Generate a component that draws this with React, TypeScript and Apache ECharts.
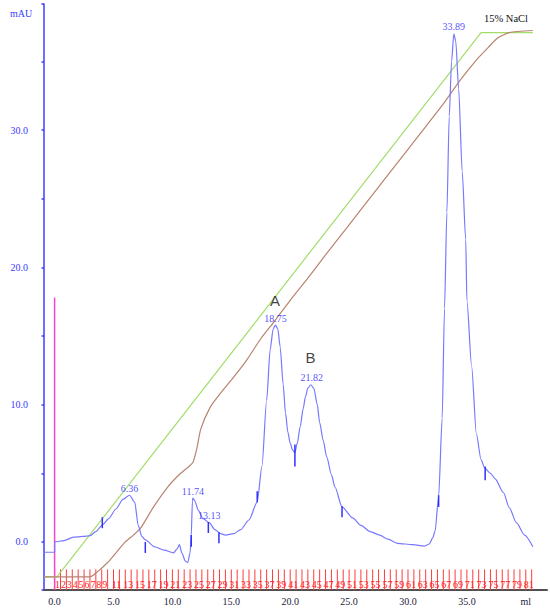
import React, { useEffect, useRef } from "react";
import * as echarts from "echarts";

// UV absorbance (mAU) vs elution volume (ml)
const uvTrace: [number, number][] = [
  [-0.9, -0.75], [0, -0.75], [0, 0], [0.8, 0.1], [1.6, 0.35], [2.4, 0.4], [3.0, 0.45],
  [3.5, 0.75], [4.07, 1.25], [4.6, 1.7], [5.2, 2.4], [5.8, 3.1], [6.36, 3.4], [6.8, 2.9],
  [7.1, 1.2], [7.4, 0.4], [7.7, 0.15], [8.5, -0.35], [9.3, -0.6], [10.1, -0.8], [10.4, -0.5],
  [10.6, -0.2], [10.8, -0.8], [11.1, -1.4], [11.3, -1.5], [11.5, -0.8], [11.6, 0.5],
  [11.7, 3.0], [11.74, 3.2], [11.9, 3.0], [12.2, 2.3], [12.6, 1.7], [13.13, 1.4], [13.6, 0.9],
  [14.1, 0.6], [14.5, 0.5], [15.2, 0.6], [15.8, 0.9], [16.5, 1.6], [17.2, 2.9], [17.6, 5.5],
  [18.0, 10.3], [18.3, 14.0], [18.55, 15.5], [18.75, 15.8], [18.95, 15.5], [19.15, 14.2],
  [19.4, 11.5], [19.6, 9.4], [19.8, 8.0], [20.0, 7.2], [20.2, 6.7], [20.4, 6.5], [20.6, 7.2],
  [20.85, 8.4], [21.1, 9.7], [21.3, 10.6], [21.5, 11.2], [21.75, 11.45], [22.0, 11.2],
  [22.3, 10.0], [22.5, 8.7], [22.8, 7.4], [23.1, 6.2], [23.5, 4.9], [23.8, 4.0], [24.4, 2.55],
  [25.3, 1.75], [26.0, 1.2], [26.8, 0.75], [27.6, 0.5], [28.3, 0.2], [29.1, -0.1], [30.4, -0.2],
  [31.4, -0.3], [31.8, -0.15], [32.1, 0.3], [32.3, 0.8], [32.6, 3.3], [32.9, 9.0], [33.1, 17.0],
  [33.3, 24.0], [33.5, 31.0], [33.7, 35.0], [33.89, 37.0], [34.05, 36.5], [34.3, 33.0],
  [34.6, 27.0], [34.9, 22.0], [35.0, 17.6], [35.4, 12.8], [35.8, 7.9], [36.2, 6.0], [36.5, 5.4],
  [37.0, 5.0], [37.4, 4.6], [38.1, 3.6], [38.6, 2.5], [39.2, 1.4], [39.9, 0.5], [40.6, -0.35],
];

// Conductivity trace
const conductivity: [number, number][] = [
  [-0.9, -2.55], [3.0, -2.55], [3.6, -2.2], [4.5, -1.5], [5.3, -0.7], [6.0, 0], [6.7, 0.5],
  [7.3, 1.0], [8.4, 2.55], [9.6, 4.0], [10.7, 5.0], [11.4, 5.5], [11.75, 5.8], [12.1, 6.9],
  [12.4, 8.2], [13.2, 9.8], [14.1, 10.85], [15.2, 12.0], [16.35, 13.3], [17.5, 14.8],
  [18.6, 16.0], [20.0, 17.6], [21.4, 19.1], [23.0, 20.9], [25.0, 23.1], [27.0, 25.3],
  [29.0, 27.5], [31.0, 29.7], [33.0, 31.9], [34.4, 33.6], [35.8, 35.1], [36.8, 36.0],
  [37.6, 36.7], [38.6, 37.1], [40.6, 37.25],
];

// Programmed NaCl gradient (0 -> 15% NaCl)
const gradient: [number, number][] = [
  [-0.9, -2.55], [0.2, -2.55], [36.2, 37.1], [40.6, 37.1],
];

// Injection mark
const injection: [number, number][] = [[0, -3.5], [0, 17.8]];

// Peak retention volumes (ml) and heights (mAU)
const peaks: [number, number][] = [
  [6.36, 3.4], [11.74, 3.2], [13.13, 1.4], [18.75, 15.8], [21.82, 11.45], [33.89, 37.0],
];

// Peak names
const peakNames: { name: string; value: [number, number] }[] = [
  { name: "A", value: [18.72, 17.55] },
  { name: "B", value: [21.72, 13.4] },
];

// Integration markers: [ml, top mAU, bottom mAU]
const markers: [number, number, number][] = [
  [4.05, 1.8, 1.0], [7.7, 0.0, -0.8], [11.6, 0.5, -0.35], [13.05, 1.45, 0.65],
  [13.95, 0.7, -0.1], [17.2, 3.7, 2.9], [20.4, 7.1, 5.5], [24.4, 2.6, 1.8],
  [32.6, 3.4, 2.55], [36.55, 5.5, 4.5],
];

// Fractions
const fractionVolume = 0.5;
const fractionCount = 81;
const fractionLabels = [
  1, 2, 3, 4, 5, 6, 7, 8, 9, 11, 13, 15, 17, 19, 21, 23, 25, 27, 29, 31, 33, 35, 37, 39,
  41, 43, 45, 47, 49, 51, 53, 55, 57, 59, 61, 63, 65, 67, 69, 71, 73, 75, 77, 79, 81,
];

const X_MIN = -0.9;
const X_MAX = 41.8;
const Y_MIN = -3.5;
const Y_MAX = 39.18;
const FRACTION_TOP = -2.0;

export default function App() {
  const ref = useRef<HTMLDivElement>(null);

  useEffect(() => {
    if (!ref.current) return;
    const chart = echarts.init(ref.current, undefined, { renderer: "svg" });

    const boundaries = Array.from({ length: fractionCount + 1 }, (_, i) => [i * fractionVolume, FRACTION_TOP]);
    const labelData = fractionLabels.map((n) => [(n - 0.5) * fractionVolume, Y_MIN, n]);

    const serif = '"Liberation Serif", "Times New Roman", serif';

    chart.setOption({
      animation: false,
      grid: { left: 44, right: 3, top: 4, bottom: 22, containLabel: false },
      xAxis: {
        type: "value",
        min: X_MIN,
        max: X_MAX,
        minInterval: 5,
        maxInterval: 5,
        splitLine: { show: false },
        axisLine: { show: true, onZero: false, lineStyle: { color: "#505050", width: 2 } },
        axisTick: { show: false },
        axisLabel: {
          color: "#1a1a3a",
          fontFamily: serif,
          fontSize: 10,
          margin: 6,
          formatter: (v: number) => {
            if (Math.abs(v - 40) < 1e-6) return "ml";
            if (Math.abs(v / 5 - Math.round(v / 5)) > 1e-6) return "";
            return v.toFixed(1);
          },
        },
      },
      yAxis: {
        type: "value",
        min: Y_MIN,
        max: Y_MAX,
        minInterval: 5,
        maxInterval: 5,
        splitLine: { show: false },
        axisLine: { show: true, onZero: false, lineStyle: { color: "#3c3cff", width: 1.5 } },
        axisTick: { show: true, length: 2.5, lineStyle: { color: "#3c3cff", width: 1.5 } },
        axisLabel: {
          color: "#3a3aff",
          fontFamily: serif,
          fontSize: 10,
          margin: 16,
          formatter: (v: number) => {
            if (Math.abs(v / 10 - Math.round(v / 10)) > 1e-6) return "";
            return v.toFixed(1);
          },
        },
      },
      graphic: [
        {
          type: "text",
          left: 10,
          top: 8,
          style: { text: "mAU", fill: "#3a3aff", font: `10px ${serif}` },
        },
        {
          type: "text",
          left: 484,
          top: 13,
          style: { text: "15% NaCl", fill: "#111", font: `10.5px ${serif}` },
        },
      ],
      series: [
        {
          type: "custom",
          name: "fractions",
          silent: true,
          z: 1,
          data: boundaries,
          encode: { x: 0, y: 1 },
          renderItem: (params: any, api: any) => {
            const x = api.value(0);
            const p1 = api.coord([x, api.value(1)]);
            const p2 = api.coord([x, Y_MIN]);
            return {
              type: "line",
              shape: { x1: p1[0], y1: p1[1], x2: p2[0], y2: p2[1] },
              style: { stroke: "#ff3b3b", lineWidth: 1 },
            };
          },
        },
        {
          type: "custom",
          name: "fractionLabels",
          silent: true,
          z: 2,
          data: labelData,
          encode: { x: 0, y: 1 },
          renderItem: (params: any, api: any) => {
            const p = api.coord([api.value(0), api.value(1)]);
            return {
              type: "text",
              x: p[0],
              y: p[1] - 1,
              style: {
                text: String(api.value(2)),
                fill: "#ff2020",
                font: `10px ${serif}`,
                align: "center",
                verticalAlign: "bottom",
              },
            };
          },
        },
        {
          type: "line",
          name: "injection",
          data: injection,
          symbol: "none",
          silent: true,
          z: 3,
          lineStyle: { color: "#ff40c8", width: 1.5 },
        },
        {
          type: "line",
          name: "gradient",
          data: gradient,
          symbol: "none",
          silent: true,
          z: 3,
          lineStyle: { color: "#a4dc6c", width: 1.2 },
        },
        {
          type: "line",
          name: "conductivity",
          data: conductivity,
          symbol: "none",
          smooth: 0.2,
          silent: true,
          z: 4,
          lineStyle: { color: "#b88470", width: 1.2 },
        },
        {
          type: "line",
          name: "UV",
          data: uvTrace,
          symbol: "none",
          smooth: 0.25,
          smoothMonotone: "x",
          silent: true,
          z: 5,
          lineStyle: { color: "#7878ff", width: 1.2 },
        },
        {
          type: "custom",
          name: "markers",
          silent: true,
          z: 6,
          data: markers,
          encode: { x: 0, y: [1, 2] },
          renderItem: (params: any, api: any) => {
            const x = api.value(0);
            const p1 = api.coord([x, api.value(1)]);
            const p2 = api.coord([x, api.value(2)]);
            return {
              type: "line",
              shape: { x1: p1[0], y1: p1[1], x2: p2[0], y2: p2[1] },
              style: { stroke: "#3030ff", lineWidth: 1.5 },
            };
          },
        },
        {
          type: "scatter",
          name: "peaks",
          data: peaks,
          symbolSize: 0,
          silent: true,
          z: 7,
          label: {
            show: true,
            position: "top",
            distance: 2,
            color: "#2424ff",
            fontFamily: serif,
            fontSize: 10,
            formatter: (p: any) => p.value[0].toFixed(2),
          },
        },
        {
          type: "scatter",
          name: "peakNames",
          data: peakNames,
          symbolSize: 0,
          silent: true,
          z: 7,
          label: {
            show: true,
            position: "inside",
            color: "#111",
            fontFamily: '"Liberation Sans", Arial, sans-serif',
            fontSize: 15,
            formatter: (p: any) => p.name,
          },
        },
      ],
    });

    return () => chart.dispose();
  }, []);

  return (
    <div
      ref={ref}
      style={{ position: "fixed", left: 0, top: 0, width: 550, height: 612, background: "#fff" }}
    />
  );
}
